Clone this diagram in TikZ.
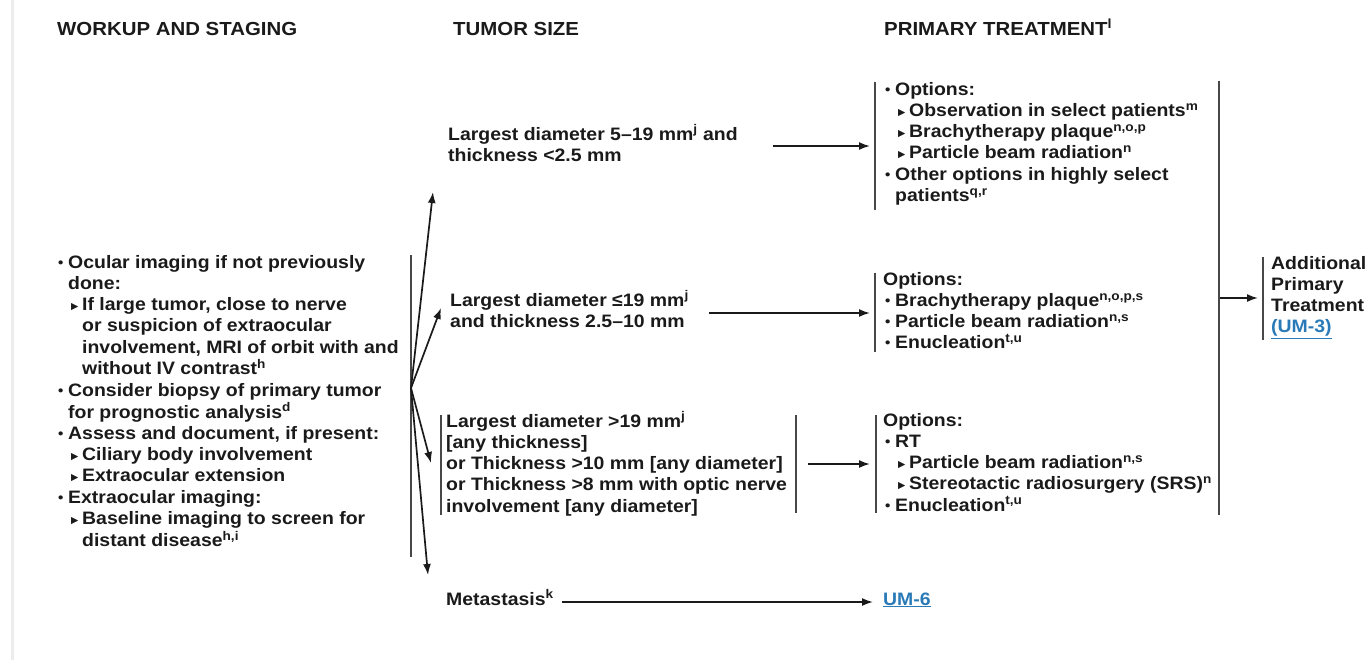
\documentclass[tikz,border=0pt]{standalone}
\usepackage{fontspec}
\setmainfont{Liberation Sans}[FakeStretch=1.08]
\newfontfamily\symf{DejaVu Sans}
\usetikzlibrary{arrows.meta}
\definecolor{ink}{HTML}{1A1A1A}
\definecolor{linkblue}{HTML}{2A7AB8}
\definecolor{edgegray}{HTML}{ECECEC}
\newcommand\bl{\makebox[10pt][l]{\raisebox{1pt}{\fontsize{14}{14}\selectfont •}}}
\newcommand\tr{\makebox[11pt][l]{\raisebox{1pt}{\symf\fontsize{9.5}{10}\selectfont ▶}}}
\newcommand\sps[1]{\textsuperscript{#1}}
\newcommand\ml[1]{\begin{tabular}[t]{@{}l@{}}#1\end{tabular}}
\tikzset{
  txt/.style={anchor=base west, inner sep=0pt, font=\fontsize{18}{21.3}\selectfont\bfseries, text=ink},
  hdr/.style={anchor=base west, inner sep=0pt, font=\fontsize{18.9}{22}\selectfont\bfseries, text=ink},
  conn/.style={draw=ink, line width=1.7pt, -{Latex[length=11pt,width=8pt]}},
  brk/.style={draw=ink!80, line width=1.7pt},
  link/.style={text=linkblue}
}
\begin{document}
\begin{tikzpicture}[x=1pt,y=-1pt]
\useasboundingbox (0,0) rectangle (1369,665);
\draw[edgegray, line width=3pt] (12,0) -- (12,660);

% headers
\node[hdr] (h1) at (57,35) {WORKUP AND STAGING};
\node[hdr] (h2) at (453,35) {TUMOR SIZE};
\node[hdr] (h3) at (884,35) {PRIMARY TREATMENT\sps{l}};

% workup
\node[txt] (w) at (58,268) {\ml{\bl Ocular imaging if not previously\\
\hspace*{10pt}done:\\
\hspace*{13pt}\tr If large tumor, close to nerve\\
\hspace*{24pt}or suspicion of extraocular\\
\hspace*{24pt}involvement, MRI of orbit with and\\
\hspace*{24pt}without IV contrast\sps{h}\\
\bl Consider biopsy of primary tumor\\
\hspace*{10pt}for prognostic analysis\sps{d}\\
\bl Assess and document, if present:\\
\hspace*{13pt}\tr Ciliary body involvement\\
\hspace*{13pt}\tr Extraocular extension\\
\bl Extraocular imaging:\\
\hspace*{13pt}\tr Baseline imaging to screen for\\
\hspace*{24pt}distant disease\sps{h,i}}};

% tumor size
\node[txt] (t1) at (448,140) {\ml{Largest diameter 5–19 mm\sps{j} and\\thickness <2.5 mm}};
\node[txt] (t2) at (450,306) {\ml{Largest diameter ≤19 mm\sps{j}\\and thickness 2.5–10 mm}};
\node[txt] (t3) at (446,427) {\ml{Largest diameter >19 mm\sps{j}\\{[}any thickness{]}\\or Thickness >10 mm {[}any diameter{]}\\or Thickness >8 mm with optic nerve\\involvement {[}any diameter{]}}};
\node[txt] (t4) at (446,605) {Metastasis\sps{k}};

% primary treatment
\node[txt] (p1) at (885,95) {\ml{\bl Options:\\
\hspace*{13pt}\tr Observation in select patients\sps{m}\\
\hspace*{13pt}\tr Brachytherapy plaque\sps{n,o,p}\\
\hspace*{13pt}\tr Particle beam radiation\sps{n}\\
\bl Other options in highly select\\
\hspace*{10pt}patients\sps{q,r}}};
\node[txt] (p2) at (883,285) {\ml{Options:\\
\hspace*{2pt}\bl Brachytherapy plaque\sps{n,o,p,s}\\
\hspace*{2pt}\bl Particle beam radiation\sps{n,s}\\
\hspace*{2pt}\bl Enucleation\sps{t,u}}};
\node[txt] (p3) at (883,426) {\ml{Options:\\
\hspace*{2pt}\bl RT\\
\hspace*{15pt}\tr Particle beam radiation\sps{n,s}\\
\hspace*{15pt}\tr Stereotactic radiosurgery (SRS)\sps{n}\\
\hspace*{2pt}\bl Enucleation\sps{t,u}}};
\node[txt, link] (um6) at (883,605) {\underline{UM-6}};
\node[txt] (addl) at (1271,269) {\ml{Additional\\Primary\\Treatment\\\textcolor{linkblue}{\underline{(UM-3)}}}};

% brackets
\coordinate (wbt) at (411,255); \coordinate (wbb) at (411,557);
\draw[brk] (wbt) -- (wbb);
\coordinate (t3lt) at (441,415); \coordinate (t3lb) at (441,515);
\draw[brk] (t3lt) -- (t3lb);
\coordinate (t3rt) at (796,415); \coordinate (t3rb) at (796,513);
\draw[brk] (t3rt) -- (t3rb);
\coordinate (p1t) at (875,82); \coordinate (p1b) at (875,210);
\draw[brk] (p1t) -- (p1b);
\coordinate (p2t) at (875,273); \coordinate (p2b) at (875,352);
\draw[brk] (p2t) -- (p2b);
\coordinate (p3t) at (876,415); \coordinate (p3b) at (876,513);
\draw[brk] (p3t) -- (p3b);
\coordinate (bigt) at (1219,81); \coordinate (bigb) at (1219,515);
\draw[brk] (bigt) -- (bigb);
\coordinate (at) at (1263,257); \coordinate (ab) at (1263,340);
\draw[brk] (at) -- (ab);

% fan arrows
\coordinate (fan) at (411,388);
\coordinate (a1) at (433,192);
\coordinate (a2) at (441,308);
\coordinate (a3) at (431,463);
\coordinate (a4) at (428,575);
\draw[conn] (fan) -- (a1);
\draw[conn] (fan) -- (a2);
\draw[conn] (fan) -- (a3);
\draw[conn] (fan) -- (a4);

% horizontal arrows
\coordinate (r1s) at (773,146); \coordinate (r1e) at (870,146);
\coordinate (r2s) at (709,313); \coordinate (r2e) at (870,313);
\coordinate (r3s) at (808,464); \coordinate (r3e) at (870,464);
\coordinate (r4s) at (562,602); \coordinate (r4e) at (873,602);
\coordinate (r5s) at (1220,298); \coordinate (r5e) at (1258,298);
\draw[conn] (r1s) -- (r1e);
\draw[conn] (r2s) -- (r2e);
\draw[conn] (r3s) -- (r3e);
\draw[conn] (r4s) -- (r4e);
\draw[conn] (r5s) -- (r5e);
\end{tikzpicture}
\end{document}
